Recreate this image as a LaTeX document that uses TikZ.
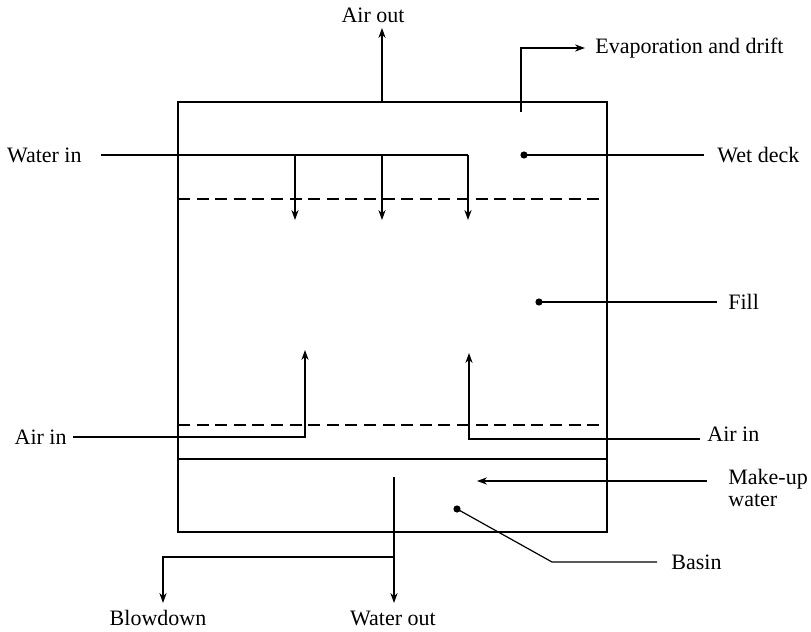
\documentclass[tikz,border=0pt]{standalone}
\usepackage{fontspec}
\setmainfont{Liberation Serif}
\usetikzlibrary{arrows.meta,positioning,calc}
\tikzset{
 lbl/.style={font=\fontsize{11}{11}\selectfont,inner sep=0pt,align=left},
 wire/.style={line width=0.6pt,draw=black},
 flow/.style={wire,-{Stealth[length=5pt,width=3.6pt]}},
 tray/.style={line width=0.6pt,dash pattern=on 6pt off 3.3pt},
 pin/.style={circle,fill=black,inner sep=0pt,minimum size=3.6pt}
}

\begin{document}
\begin{tikzpicture}[x=0.5pt,y=-0.5pt]
 \useasboundingbox (0,0) rectangle (811,632);
 % tower shell, basin and the two fill boundaries
 \coordinate (tl) at (178,102);
 \coordinate (br) at (607,532);
 \coordinate (basinl) at (178,459);
 \coordinate (basinr) at (607,459);
 \draw[wire] (tl) rectangle (br);
 \draw[wire] (basinl) -- (basinr);
 \draw[tray] (178,199) -- (607,199);
 \draw[tray] (178,425) -- (607,425);
 % labels
 \node[lbl,anchor=east] (waterin) at (82,155) {Water in};
 \node[lbl,anchor=west] (wetdeck) at (717,155) {Wet deck};
 \node[lbl,anchor=west] (fill) at (728,302) {Fill};
 \node[lbl,anchor=east] (airinl) at (67,437) {Air in};
 \node[lbl,anchor=west] (airinr) at (707,434) {Air in};
 \node[lbl,anchor=west] (makeup) at (728,488) {Make-up\\water};
 \node[lbl,anchor=west] (basin) at (671,562) {Basin};
 \node[lbl] (airout) at (373,15) {Air out};
 \node[lbl,anchor=west] (evap) at (595,48) {Evaporation and drift};
 \node[lbl] (blowdown) at (158,618) {Blowdown};
 \node[lbl] (waterout) at (393,618) {Water out};
 % pointers
 \node[pin] (wetdot) at (524,155) {};
 \node[pin] (filldot) at (539,302) {};
 \node[pin] (basindot) at (457,509) {};
 \coordinate (bend) at (552,562);
 \draw[wire,shorten >=6.5pt] (wetdot.center) -- (wetdeck);
 \draw[wire,shorten >=5.5pt] (filldot.center) -- (fill);
 \draw[wire,shorten >=7pt] (basindot.center) -- (bend) -- (basin);
 % water distribution
 \coordinate (spray) at (468,155);
 \draw[wire,shorten <=9.5pt] (waterin) -- (spray);
 \foreach \x in {295,382,468}
  \draw[flow] (\x,155) -- (\x,220);
 % air paths
 \coordinate (al) at (305,437);
 \coordinate (ar) at (469,439);
 \draw[flow,shorten <=3pt] (airinl) -- (al) -- (305,350);
 \draw[flow,shorten <=3.5pt] (airinr.west |- ar) -- (ar) -- (469,353);
 \draw[flow] (382,102) -- (382,28);
 \coordinate (ev) at (521,48);
 \draw[flow,shorten >=5pt] (521,112) -- (ev) -- (evap);
 % basin in and out
 \coordinate (mu) at (477,481);
 \draw[flow,shorten <=10.5pt] (makeup.west |- mu) -- (mu);
 \coordinate (drain) at (394,477);
 \coordinate (split) at (394,557);
 \draw[flow] (drain) -- (394,603);
 \draw[flow] (split) -| (163,603);
\end{tikzpicture}
\end{document}
